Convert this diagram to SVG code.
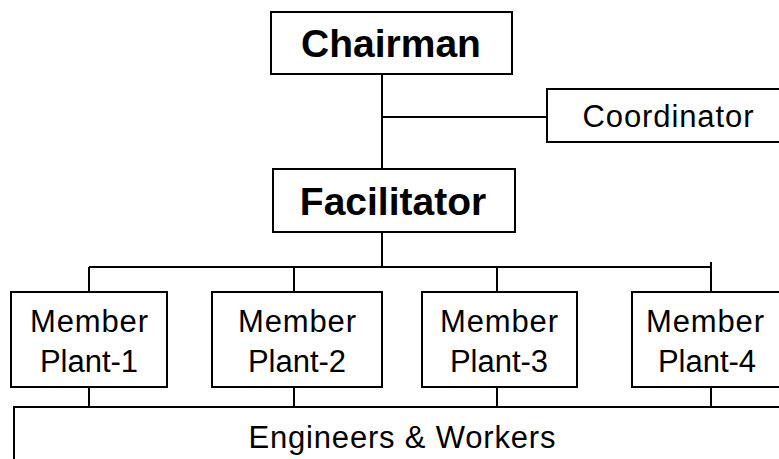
<svg xmlns="http://www.w3.org/2000/svg" width="779" height="459" viewBox="0 0 779 459">
<style>
.box{fill:#fff;stroke:#000;stroke-width:2}
.ln{stroke:#000;stroke-width:2;fill:none}
.b{font-family:"Liberation Sans",Arial,sans-serif;font-weight:bold;font-size:39px;text-anchor:middle}
.r{font-family:"Liberation Sans",Arial,sans-serif;font-size:31px;text-anchor:middle}
</style>
<rect width="779" height="459" fill="#fff"/>
<g id="connectors">
<path class="ln" d="M382 74V169M382 117H547M382 232V267M89 267H711M711 262V292M89 267V292M294 267V292M497 267V292M89 387V407M294 387V407M497 387V410M711 387V407"/>
</g>
<g id="chairman"><rect class="box" x="271" y="12" width="241" height="62"/><text class="b" x="391" y="57">Chairman</text></g>
<g id="coordinator"><rect class="box" x="547" y="89" width="240" height="53"/><text class="r" x="668" y="127" textLength="171">Coordinator</text></g>
<g id="facilitator"><rect class="box" x="273" y="169" width="242" height="63"/><text class="b" x="393" y="215">Facilitator</text></g>
<g id="plant1"><rect class="box" x="11" y="292" width="156" height="95"/><text class="r" x="89" y="332" textLength="118">Member</text><text class="r" x="89" y="372">Plant-1</text></g>
<g id="plant2"><rect class="box" x="212" y="292" width="170" height="95"/><text class="r" x="297" y="332" textLength="118">Member</text><text class="r" x="297" y="372">Plant-2</text></g>
<g id="plant3"><rect class="box" x="422" y="292" width="155" height="95"/><text class="r" x="499" y="332" textLength="118">Member</text><text class="r" x="499" y="372">Plant-3</text></g>
<g id="plant4"><rect class="box" x="632" y="292" width="160" height="95"/><text class="r" x="705" y="332" textLength="118">Member</text><text class="r" x="707" y="372">Plant-4</text></g>
<g id="engineers"><rect class="box" x="14" y="407" width="780" height="60"/><text class="r" x="402" y="448" textLength="307">Engineers &amp; Workers</text></g>
</svg>
